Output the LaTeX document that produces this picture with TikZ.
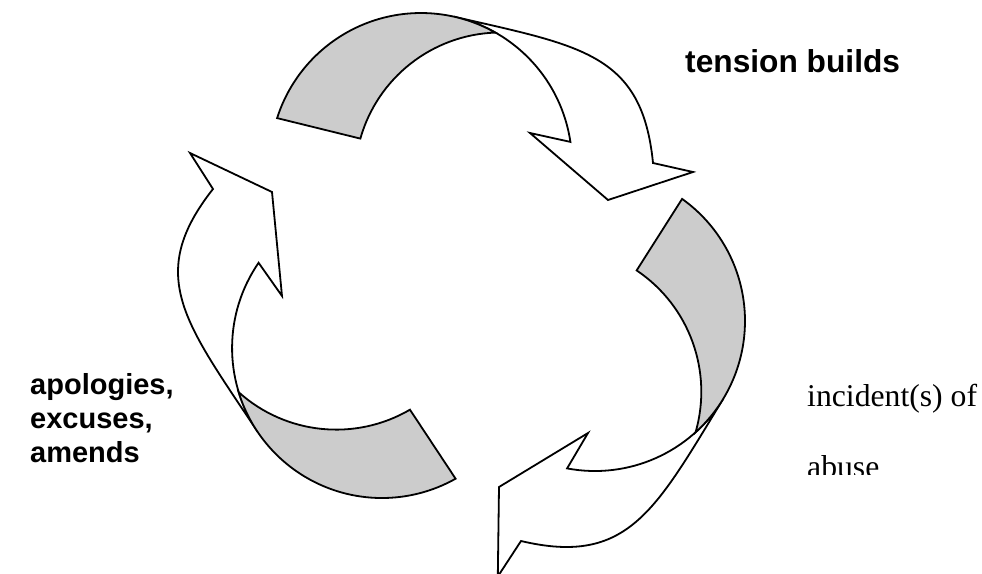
\documentclass[tikz,border=0pt]{standalone}
\usepackage{fontspec}
\setmainfont{Liberation Serif}
\newfontfamily\labelsans{Liberation Sans}
\definecolor{ink}{HTML}{000000}
\definecolor{backgray}{HTML}{CCCCCC}
\tikzset{
  backface/.style={draw=ink,fill=backgray,line width=1.8pt},
  frontface/.style={draw=ink,fill=white,line width=1.8pt},
  phaselabel/.style={inner sep=0pt,anchor=base west,
                     font=\labelsans\bfseries\fontsize{31.7}{36}\selectfont},
  notelabel/.style={inner sep=0pt,anchor=base west,
                    font=\fontsize{31.7}{38}\selectfont}
}

\begin{document}
\begin{tikzpicture}[x=1pt,y=-1pt]
    \path[use as bounding box] (0,0) rectangle (982,573);
    \clip (0,0) rectangle (982,573);

    % top arrow
    \draw[frontface] (455.0,16.9) .. controls (581.7,46.1) and (642.2,53.6) .. (653,163)
      -- (693,172) -- (608,200) -- (530,133) -- (570.4,141.9)
      arc[start angle=-8.4,end angle=-77,radius=151] -- cycle;
    \draw[backface] (277.1,118.1) arc[start angle=-162.3,end angle=-60.5,radius=151]
      arc[start angle=-92.1,end angle=-164.2,radius=145.8] -- cycle;

    % right arrow
    \draw[frontface] (723,399.2) .. controls (655.3,510.1) and (628,566.3) .. (521,541)
      -- (497.8,576.5) -- (499,487) -- (588,433) -- (567.1,468.4)
      arc[start angle=100.7,end angle=31.4,radius=150] -- cycle;
    \draw[backface] (682.1,198.9) arc[start angle=-54.5,end angle=47.9,radius=150]
      arc[start angle=16.1,end angle=-56.1,radius=146.2] -- cycle;

    % left arrow
    \draw[frontface] (257.1,431.0) .. controls (185.2,322.7) and (144.9,275.4) .. (213,189)
      -- (190,153) -- (272,192) -- (282,296) -- (258.6,262.8)
      arc[start angle=214.6,end angle=146.4,radius=150] -- cycle;
    \draw[backface] (455.6,478.7) arc[start angle=60.6,end angle=162.9,radius=150]
      arc[start angle=132,end angle=59.7,radius=146] -- cycle;

    % labels
    \node[phaselabel] (tension) at (685,72) {tension builds};
    \node[notelabel] (incident) at (807,406) {incident(s) of};
    \begin{scope}
      \clip (780,430) rectangle (982,474);
      \node[notelabel] (abuse) at (807,477) {abuse};
    \end{scope}
    \node[phaselabel,font=\labelsans\bfseries\fontsize{29}{34}\selectfont]
      (apologies) at (30,394) {apologies,};
    \node[phaselabel,font=\labelsans\bfseries\fontsize{29}{34}\selectfont]
      (excuses) at (30,428) {excuses,};
    \node[phaselabel,font=\labelsans\bfseries\fontsize{29}{34}\selectfont]
      (amends) at (30,462) {amends};
\end{tikzpicture}
\end{document}
